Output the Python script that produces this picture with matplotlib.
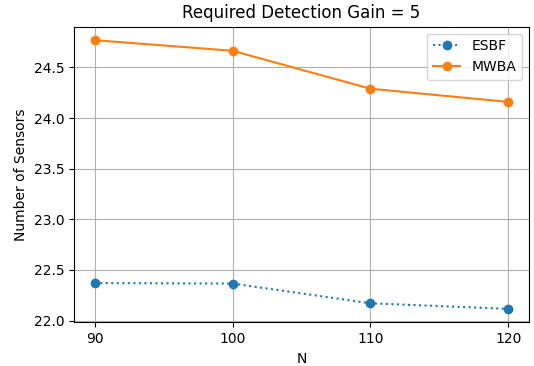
import matplotlib
matplotlib.use('Agg')
import matplotlib.pyplot as plt

N = [90, 100, 110, 120]
esbf = [22.37, 22.365, 22.17, 22.115]
mwba = [24.77, 24.665, 24.29, 24.16]

fig, ax = plt.subplots(figsize=(5.34, 3.66), dpi=100)
fig.subplots_adjust(left=0.1386, right=0.9906, bottom=0.1194, top=0.927)

ax.plot(N, esbf, 'o:', label='ESBF')
ax.plot(N, mwba, 'o-', label='MWBA')
ax.set_xticks(N)
ax.set_title('Required Detection Gain = 5')
ax.set_xlabel('N')
ax.set_ylabel('Number of Sensors')
ax.grid(True)
ax.legend()

fig.savefig('out.png', dpi=100)
